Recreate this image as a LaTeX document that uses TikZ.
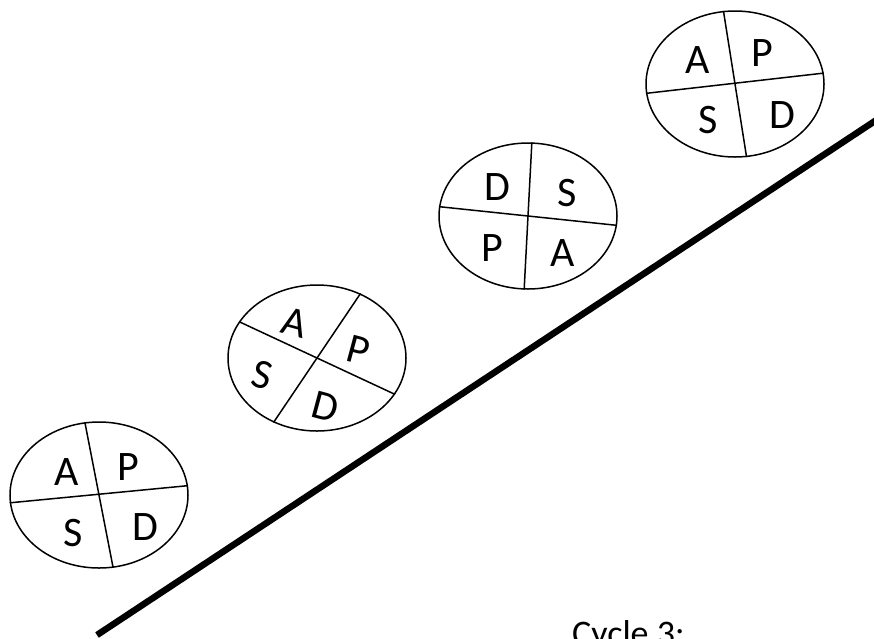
\documentclass[tikz,border=0pt]{standalone}
\usepackage{fontspec}
\setmainfont{Carlito}
\usetikzlibrary{shapes.geometric}
\tikzset{
  wheel/.style={draw, ellipse, line width=1.5pt, minimum width=178pt, minimum height=146pt, inner sep=0pt},
  spoke/.style={line width=1.5pt},
  lbl/.style={font=\fontsize{42}{42}\selectfont, inner sep=0pt}
}
\begin{document}
\begin{tikzpicture}[x=1pt,y=-1pt]
\useasboundingbox (0,0) rectangle (874,638);
\clip (0,0) rectangle (874,638);

% the slope
\coordinate (lo) at (97,635);
\coordinate (hi) at (884,115);
\draw[line width=6.5pt] (lo) -- (hi);

% wheel 1
\node[wheel] (c1) at (99,495) {};
\draw[spoke] (c1.101) -- (c1.281);
\draw[spoke] (c1.185) -- (c1.6);
\node[lbl] (a1) at (67,472) {A};
\node[lbl] (p1) at (128,467) {P};
\node[lbl] (s1) at (73,533) {S};
\node[lbl] (d1) at (145,527) {D};

% wheel 2
\node[wheel] (c2) at (317,358) {};
\draw[spoke] (c2.155) -- (c2.335);
\draw[spoke] (c2.56) -- (c2.236);
\node[lbl, rotate=-15] (a2) at (295,323) {A};
\node[lbl, rotate=-15] (p2) at (358,350) {P};
\node[lbl, rotate=-15] (s2) at (262,375) {S};
\node[lbl, rotate=-15] (d2) at (325,407) {D};

% wheel 3
\node[wheel] (c3) at (528,216) {};
\draw[spoke] (c3.87) -- (c3.267);
\draw[spoke] (c3.174) -- (c3.354);
\node[lbl] (d3) at (497,187) {D};
\node[lbl] (s3) at (567,193) {S};
\node[lbl] (p3) at (492,248) {P};
\node[lbl] (a3) at (563,253) {A};

% wheel 4
\node[wheel] (c4) at (735,84) {};
\draw[spoke] (c4.99) -- (c4.279);
\draw[spoke] (c4.186) -- (c4.7);
\node[lbl] (a4) at (698,60) {A};
\node[lbl] (p4) at (762,53) {P};
\node[lbl] (s4) at (708,120) {S};
\node[lbl] (d4) at (782,115) {D};

\node[anchor=base west, inner sep=0pt, font=\fontsize{36}{36}\selectfont] (cyc) at (572,645) {Cycle 3:};
\end{tikzpicture}
\end{document}
